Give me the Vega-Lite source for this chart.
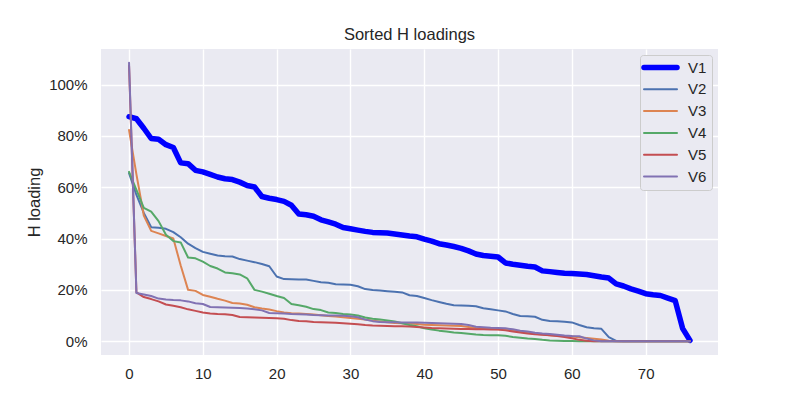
{
  "$schema": "https://vega.github.io/schema/vega-lite/v6.json",
  "width": 617,
  "height": 306,
  "autosize": {"type": "none"},
  "padding": {"left": 101, "top": 49, "right": 82, "bottom": 45},
  "background": "white",
  "config": {
    "view": {"fill": "#eaeaf2", "stroke": null},
    "font": "Liberation Sans",
    "axis": {
      "gridColor": "white",
      "gridWidth": 1.4,
      "domain": false,
      "ticks": false,
      "labelFont": "Liberation Sans",
      "labelFontSize": 15,
      "labelColor": "#262626",
      "titleFont": "Liberation Sans",
      "titleFontSize": 16.5,
      "titleFontWeight": "normal",
      "titleColor": "#262626"
    }
  },
  "title": {
    "text": "Sorted H loadings",
    "font": "Liberation Sans",
    "fontSize": 16.5,
    "fontWeight": "normal",
    "color": "#262626",
    "offset": 6
  },
  "data": {
    "values": [
      {"i": 0, "V1": 0.875, "V2": 0.655, "V3": 0.823, "V4": 0.66, "V5": 1.075, "V6": 1.085},
      {"i": 1, "V1": 0.867, "V2": 0.57, "V3": 0.65, "V4": 0.59, "V5": 0.19, "V6": 0.188},
      {"i": 2, "V1": 0.83, "V2": 0.5, "V3": 0.49, "V4": 0.52, "V5": 0.172, "V6": 0.182},
      {"i": 3, "V1": 0.79, "V2": 0.444, "V3": 0.43, "V4": 0.505, "V5": 0.164, "V6": 0.176},
      {"i": 4, "V1": 0.787, "V2": 0.442, "V3": 0.42, "V4": 0.468, "V5": 0.155, "V6": 0.166},
      {"i": 5, "V1": 0.766, "V2": 0.438, "V3": 0.41, "V4": 0.415, "V5": 0.143, "V6": 0.162},
      {"i": 6, "V1": 0.755, "V2": 0.425, "V3": 0.4, "V4": 0.39, "V5": 0.138, "V6": 0.16},
      {"i": 7, "V1": 0.695, "V2": 0.405, "V3": 0.295, "V4": 0.385, "V5": 0.132, "V6": 0.159},
      {"i": 8, "V1": 0.692, "V2": 0.38, "V3": 0.2, "V4": 0.326, "V5": 0.124, "V6": 0.155},
      {"i": 9, "V1": 0.666, "V2": 0.363, "V3": 0.196, "V4": 0.323, "V5": 0.118, "V6": 0.148},
      {"i": 10, "V1": 0.66, "V2": 0.348, "V3": 0.18, "V4": 0.31, "V5": 0.112, "V6": 0.145},
      {"i": 11, "V1": 0.65, "V2": 0.341, "V3": 0.173, "V4": 0.293, "V5": 0.108, "V6": 0.133},
      {"i": 12, "V1": 0.64, "V2": 0.334, "V3": 0.165, "V4": 0.283, "V5": 0.106, "V6": 0.132},
      {"i": 13, "V1": 0.633, "V2": 0.331, "V3": 0.158, "V4": 0.268, "V5": 0.105, "V6": 0.131},
      {"i": 14, "V1": 0.63, "V2": 0.33, "V3": 0.149, "V4": 0.265, "V5": 0.102, "V6": 0.13},
      {"i": 15, "V1": 0.62, "V2": 0.32, "V3": 0.147, "V4": 0.26, "V5": 0.094, "V6": 0.129},
      {"i": 16, "V1": 0.607, "V2": 0.314, "V3": 0.142, "V4": 0.245, "V5": 0.093, "V6": 0.127},
      {"i": 17, "V1": 0.601, "V2": 0.308, "V3": 0.132, "V4": 0.2, "V5": 0.092, "V6": 0.124},
      {"i": 18, "V1": 0.564, "V2": 0.301, "V3": 0.127, "V4": 0.193, "V5": 0.091, "V6": 0.12},
      {"i": 19, "V1": 0.557, "V2": 0.292, "V3": 0.123, "V4": 0.185, "V5": 0.09, "V6": 0.11},
      {"i": 20, "V1": 0.552, "V2": 0.252, "V3": 0.117, "V4": 0.176, "V5": 0.089, "V6": 0.109},
      {"i": 21, "V1": 0.545, "V2": 0.242, "V3": 0.112, "V4": 0.168, "V5": 0.087, "V6": 0.108},
      {"i": 22, "V1": 0.53, "V2": 0.241, "V3": 0.109, "V4": 0.145, "V5": 0.082, "V6": 0.106},
      {"i": 23, "V1": 0.496, "V2": 0.24, "V3": 0.108, "V4": 0.14, "V5": 0.079, "V6": 0.105},
      {"i": 24, "V1": 0.493, "V2": 0.24, "V3": 0.106, "V4": 0.134, "V5": 0.078, "V6": 0.104},
      {"i": 25, "V1": 0.487, "V2": 0.235, "V3": 0.104, "V4": 0.125, "V5": 0.075, "V6": 0.102},
      {"i": 26, "V1": 0.473, "V2": 0.23, "V3": 0.101, "V4": 0.121, "V5": 0.074, "V6": 0.101},
      {"i": 27, "V1": 0.465, "V2": 0.228, "V3": 0.098, "V4": 0.112, "V5": 0.073, "V6": 0.1},
      {"i": 28, "V1": 0.456, "V2": 0.222, "V3": 0.096, "V4": 0.11, "V5": 0.072, "V6": 0.1},
      {"i": 29, "V1": 0.443, "V2": 0.221, "V3": 0.093, "V4": 0.106, "V5": 0.07, "V6": 0.099},
      {"i": 30, "V1": 0.438, "V2": 0.22, "V3": 0.09, "V4": 0.104, "V5": 0.068, "V6": 0.097},
      {"i": 31, "V1": 0.433, "V2": 0.214, "V3": 0.087, "V4": 0.1, "V5": 0.066, "V6": 0.093},
      {"i": 32, "V1": 0.428, "V2": 0.203, "V3": 0.084, "V4": 0.092, "V5": 0.063, "V6": 0.084},
      {"i": 33, "V1": 0.424, "V2": 0.199, "V3": 0.08, "V4": 0.087, "V5": 0.061, "V6": 0.078},
      {"i": 34, "V1": 0.423, "V2": 0.197, "V3": 0.077, "V4": 0.084, "V5": 0.06, "V6": 0.075},
      {"i": 35, "V1": 0.422, "V2": 0.195, "V3": 0.074, "V4": 0.081, "V5": 0.059, "V6": 0.074},
      {"i": 36, "V1": 0.418, "V2": 0.193, "V3": 0.071, "V4": 0.077, "V5": 0.058, "V6": 0.074},
      {"i": 37, "V1": 0.414, "V2": 0.19, "V3": 0.07, "V4": 0.07, "V5": 0.058, "V6": 0.073},
      {"i": 38, "V1": 0.41, "V2": 0.179, "V3": 0.069, "V4": 0.063, "V5": 0.057, "V6": 0.073},
      {"i": 39, "V1": 0.407, "V2": 0.176, "V3": 0.067, "V4": 0.058, "V5": 0.055, "V6": 0.073},
      {"i": 40, "V1": 0.398, "V2": 0.168, "V3": 0.064, "V4": 0.05, "V5": 0.053, "V6": 0.072},
      {"i": 41, "V1": 0.39, "V2": 0.16, "V3": 0.063, "V4": 0.045, "V5": 0.051, "V6": 0.071},
      {"i": 42, "V1": 0.38, "V2": 0.153, "V3": 0.062, "V4": 0.041, "V5": 0.05, "V6": 0.07},
      {"i": 43, "V1": 0.375, "V2": 0.146, "V3": 0.061, "V4": 0.038, "V5": 0.049, "V6": 0.069},
      {"i": 44, "V1": 0.369, "V2": 0.14, "V3": 0.06, "V4": 0.034, "V5": 0.048, "V6": 0.068},
      {"i": 45, "V1": 0.362, "V2": 0.139, "V3": 0.059, "V4": 0.032, "V5": 0.047, "V6": 0.067},
      {"i": 46, "V1": 0.352, "V2": 0.138, "V3": 0.055, "V4": 0.029, "V5": 0.047, "V6": 0.063},
      {"i": 47, "V1": 0.34, "V2": 0.136, "V3": 0.051, "V4": 0.026, "V5": 0.046, "V6": 0.056},
      {"i": 48, "V1": 0.334, "V2": 0.128, "V3": 0.048, "V4": 0.024, "V5": 0.046, "V6": 0.054},
      {"i": 49, "V1": 0.331, "V2": 0.124, "V3": 0.047, "V4": 0.023, "V5": 0.045, "V6": 0.052},
      {"i": 50, "V1": 0.328, "V2": 0.12, "V3": 0.046, "V4": 0.023, "V5": 0.045, "V6": 0.051},
      {"i": 51, "V1": 0.305, "V2": 0.116, "V3": 0.044, "V4": 0.021, "V5": 0.042, "V6": 0.05},
      {"i": 52, "V1": 0.3, "V2": 0.106, "V3": 0.041, "V4": 0.016, "V5": 0.038, "V6": 0.046},
      {"i": 53, "V1": 0.296, "V2": 0.098, "V3": 0.038, "V4": 0.013, "V5": 0.034, "V6": 0.041},
      {"i": 54, "V1": 0.292, "V2": 0.097, "V3": 0.033, "V4": 0.01, "V5": 0.03, "V6": 0.038},
      {"i": 55, "V1": 0.289, "V2": 0.095, "V3": 0.029, "V4": 0.008, "V5": 0.027, "V6": 0.033},
      {"i": 56, "V1": 0.274, "V2": 0.083, "V3": 0.026, "V4": 0.005, "V5": 0.025, "V6": 0.03},
      {"i": 57, "V1": 0.271, "V2": 0.079, "V3": 0.023, "V4": 0.003, "V5": 0.023, "V6": 0.028},
      {"i": 58, "V1": 0.268, "V2": 0.078, "V3": 0.021, "V4": 0.002, "V5": 0.02, "V6": 0.025},
      {"i": 59, "V1": 0.265, "V2": 0.076, "V3": 0.02, "V4": 0.001, "V5": 0.016, "V6": 0.022},
      {"i": 60, "V1": 0.264, "V2": 0.073, "V3": 0.018, "V4": 0.001, "V5": 0.011, "V6": 0.02},
      {"i": 61, "V1": 0.262, "V2": 0.063, "V3": 0.015, "V4": 0, "V5": 0.005, "V6": 0.019},
      {"i": 62, "V1": 0.26, "V2": 0.054, "V3": 0.012, "V4": 0, "V5": 0.002, "V6": 0.01},
      {"i": 63, "V1": 0.255, "V2": 0.05, "V3": 0.009, "V4": 0, "V5": 0, "V6": 0.003},
      {"i": 64, "V1": 0.25, "V2": 0.048, "V3": 0.006, "V4": 0, "V5": 0, "V6": 0},
      {"i": 65, "V1": 0.246, "V2": 0.016, "V3": 0.002, "V4": 0, "V5": 0, "V6": 0},
      {"i": 66, "V1": 0.223, "V2": 0.001, "V3": 0, "V4": 0, "V5": 0, "V6": 0},
      {"i": 67, "V1": 0.215, "V2": 0, "V3": 0, "V4": 0, "V5": 0, "V6": 0},
      {"i": 68, "V1": 0.204, "V2": 0, "V3": 0, "V4": 0, "V5": 0, "V6": 0},
      {"i": 69, "V1": 0.195, "V2": 0, "V3": 0, "V4": 0, "V5": 0, "V6": 0},
      {"i": 70, "V1": 0.185, "V2": 0, "V3": 0, "V4": 0, "V5": 0, "V6": 0},
      {"i": 71, "V1": 0.181, "V2": 0, "V3": 0, "V4": 0, "V5": 0, "V6": 0},
      {"i": 72, "V1": 0.178, "V2": 0, "V3": 0, "V4": 0, "V5": 0, "V6": 0},
      {"i": 73, "V1": 0.168, "V2": 0, "V3": 0, "V4": 0, "V5": 0, "V6": 0},
      {"i": 74, "V1": 0.158, "V2": 0, "V3": 0, "V4": 0, "V5": 0, "V6": 0},
      {"i": 75, "V1": 0.05, "V2": 0, "V3": 0, "V4": 0, "V5": 0, "V6": 0},
      {"i": 76, "V1": 0.003, "V2": 0, "V3": 0, "V4": 0, "V5": 0, "V6": 0}
    ]
  },
  "transform": [{"fold": ["V1", "V2", "V3", "V4", "V5", "V6"], "as": ["series", "value"]}],
  "mark": {"type": "line", "strokeCap": "round", "strokeJoin": "round"},
  "encoding": {
    "x": {
      "field": "i",
      "type": "quantitative",
      "scale": {"domain": [-3.8, 79.8], "nice": false, "zero": false},
      "axis": {"values": [0, 10, 20, 30, 40, 50, 60, 70], "title": null, "labelPadding": 11}
    },
    "y": {
      "field": "value",
      "type": "quantitative",
      "scale": {"domain": [-0.054, 1.139], "nice": false, "zero": false},
      "axis": {"values": [0, 0.2, 0.4, 0.6, 0.8, 1.0], "format": ".0%", "title": "H loading", "labelPadding": 14, "titlePadding": 6}
    },
    "color": {
      "field": "series",
      "type": "nominal",
      "scale": {"domain": ["V1", "V2", "V3", "V4", "V5", "V6"], "range": ["#0000ff", "#4c72b0", "#dd8452", "#55a868", "#c44e52", "#8172b3"]},
      "legend": {
        "title": null,
        "orient": "none",
        "legendX": 539,
        "legendY": 6,
        "symbolType": "M-5.5,0H5.5",
        "symbolSize": 36,
        "symbolOffset": 8,
        "symbolStrokeWidth": 2,
        "labelFontSize": 15,
        "labelColor": "#262626",
        "labelFont": "Liberation Sans",
        "labelOffset": 20,
        "rowPadding": 5.8,
        "padding": 5,
        "fillColor": "#eaeaf2",
        "strokeColor": "#cccccc",
        "cornerRadius": 3,
        "encode": {
          "symbols": {
            "update": {
              "strokeWidth": {"signal": "datum.value === 'V1' ? 5.5 : 2"},
              "strokeCap": {"value": "round"},
              "strokeJoin": {"value": "round"}
            }
          }
        }
      }
    },
    "strokeWidth": {
      "condition": {"test": "datum.series === 'V1'", "value": 5.5},
      "value": 2
    }
  }
}
